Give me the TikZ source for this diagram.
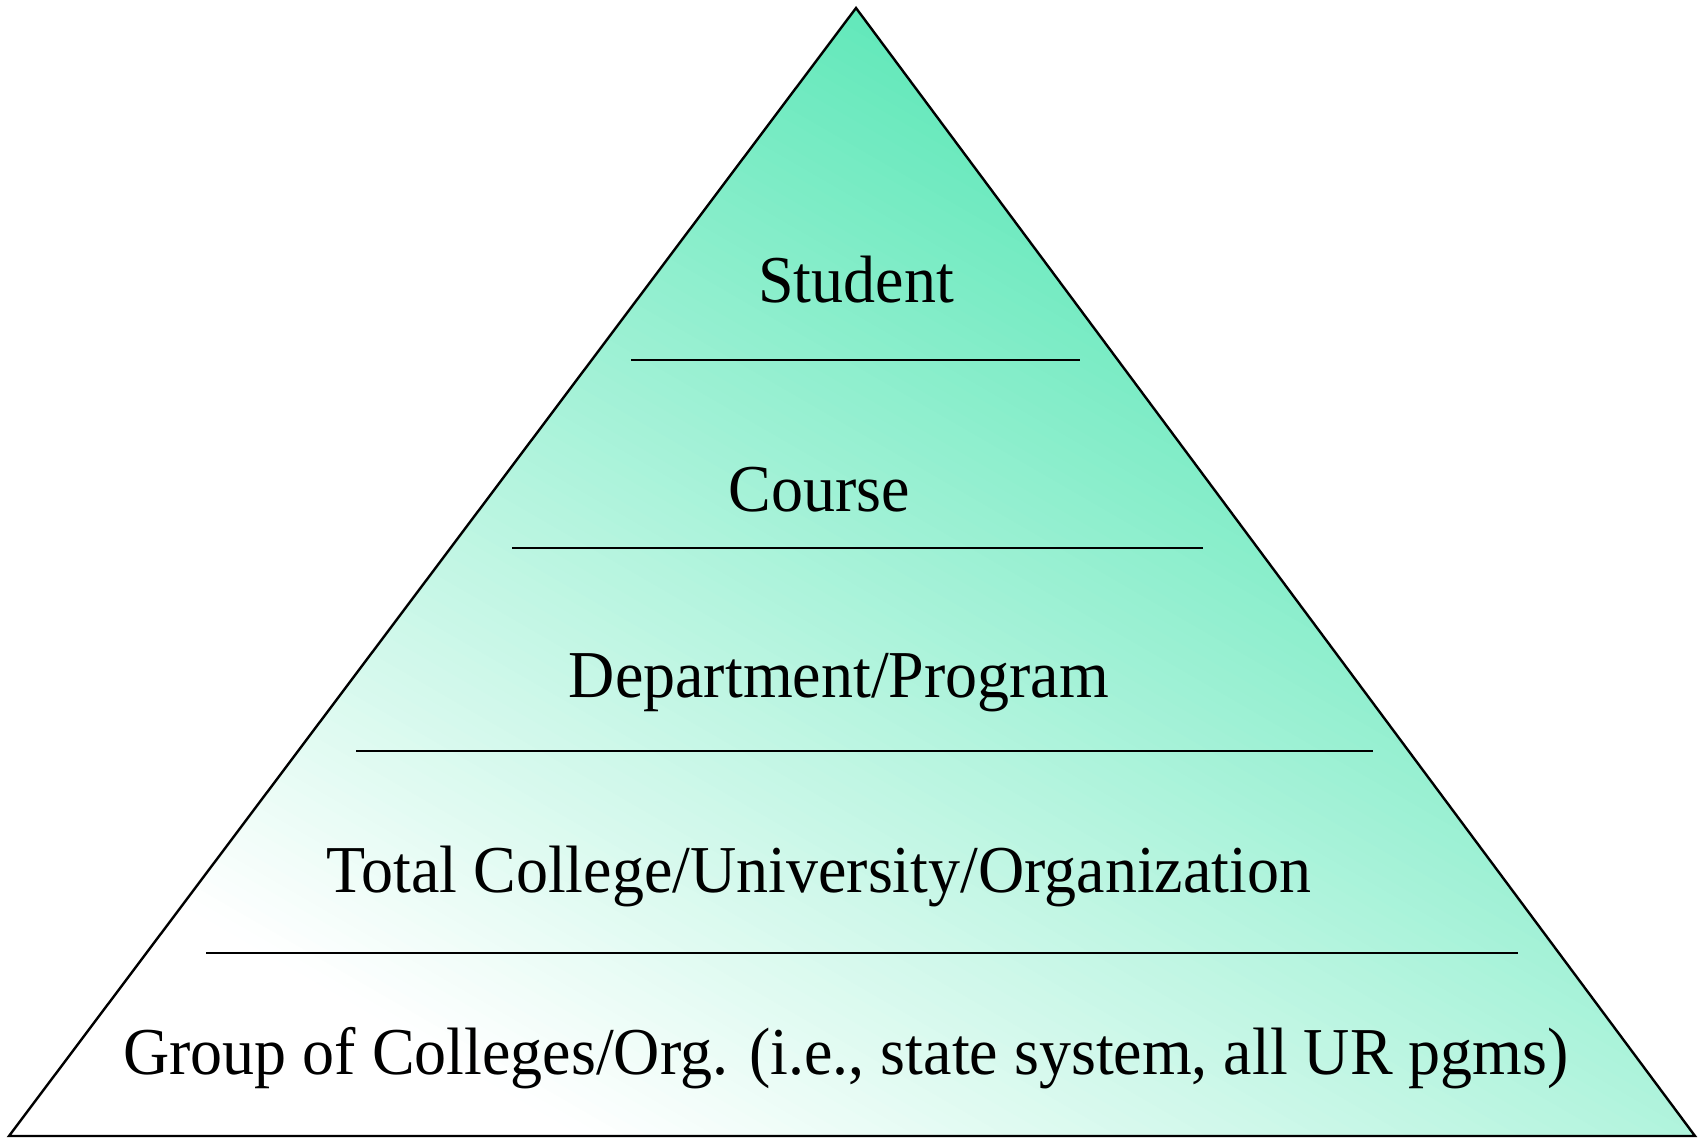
\documentclass[tikz,border=0pt]{standalone}
\usepackage{fontspec}
\usepackage{graphicx}
\setmainfont{Liberation Serif}
\definecolor{pyrgreen}{HTML}{62E8BA}
% slightly condensed label text
\newcommand{\condensed}[1]{\scalebox{0.955}[1]{#1}}
\tikzset{
  tier/.style={font=\fontsize{67}{80}\selectfont, anchor=base, inner sep=0pt},
  divider/.style={line width=2.6pt},
  outline/.style={line width=2.4pt, line join=miter}
}
\begin{document}
\begin{tikzpicture}[x=1pt,y=-1pt]
  \useasboundingbox (0,0) rectangle (1702,1139);
  % pyramid corners
  \coordinate (apex) at (856,8);
  \coordinate (bl) at (9,1136);
  \coordinate (br) at (1695,1136);
  % diagonal white-to-green gradient, built from thin bands
  \begin{scope}
    \clip (apex) -- (br) -- (bl) -- cycle;
    \begin{scope}[shift={(bl)}, rotate=60]
      \fill[white] (-3000,-3000) rectangle (288,3000);
      \foreach \i in {0,...,99} {
        \pgfmathsetmacro\da{287+\i*11.16}
        \pgfmathsetmacro\db{\da+12.5}
        \pgfmathsetmacro\pc{\i+0.5}
        \fill[pyrgreen!\pc!white] (\da,-3000) rectangle (\db,3000);
      }
      \fill[pyrgreen] (1402,-3000) rectangle (3000,3000);
    \end{scope}
  \end{scope}
  \draw[outline] (apex) -- (br) -- (bl) -- cycle;
  % tier separators
  \coordinate (d1l) at (631,360); \coordinate (d1r) at (1080,360);
  \coordinate (d2l) at (512,548); \coordinate (d2r) at (1203,548);
  \coordinate (d3l) at (356,751); \coordinate (d3r) at (1373,751);
  \coordinate (d4l) at (206,953); \coordinate (d4r) at (1518,953);
  \draw[divider] (d1l) -- (d1r);
  \draw[divider] (d2l) -- (d2r);
  \draw[divider] (d3l) -- (d3r);
  \draw[divider] (d4l) -- (d4r);
  % tier labels
  \node[tier] (student) at (856,303) {\condensed{Student}};
  \node[tier] (course) at (819,511) {\condensed{Course}};
  \node[tier] (dept) at (839,697) {\condensed{Department/Program}};
  \node[tier] (total) at (819,892) {\condensed{Total College/University/Organization}};
  \node[tier] (group) at (846,1074) {\condensed{Group of Colleges/Org. (i.e., state system, all UR pgms)}};
\end{tikzpicture}
\end{document}
